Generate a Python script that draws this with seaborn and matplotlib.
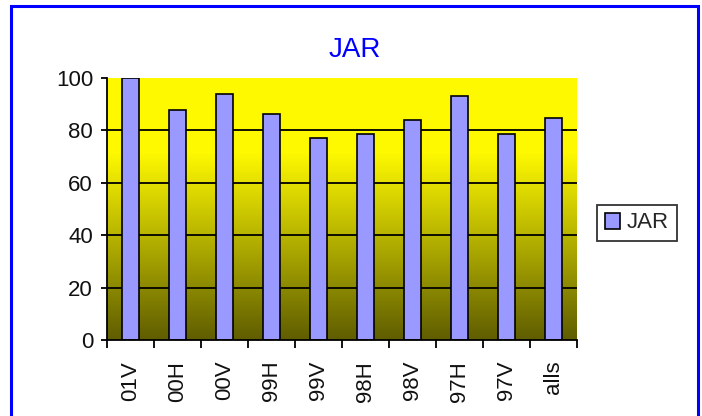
import numpy as np
import pandas as pd
import matplotlib
matplotlib.use("Agg")
import matplotlib.pyplot as plt
import seaborn as sns
from matplotlib.patches import Rectangle, Patch

categories = ["01V", "00H", "00V", "99H", "99V", "98H", "98V", "97H", "97V", "alls"]
values = [100, 87.8, 93.9, 86.3, 77.1, 78.6, 84.0, 93.1, 78.6, 84.7]
series = "JAR"
yticks = [0, 20, 40, 60, 80, 100]

sns.set_style("white")
plt.rcParams["font.family"] = ["Liberation Sans", "DejaVu Sans"]

df = pd.DataFrame({"cat": categories, "val": values, "series": series})

fig = plt.figure(figsize=(7.02, 4.16), dpi=100)
fig.patch.set_facecolor("white")
ax = fig.add_axes([107/702, 1-340/416, 470/702, 262/416])

# gradient background
v = np.linspace(100, 0, 400)
r = np.where(v >= 72, 255, 95 + 160 * v / 72) / 255.0
g = r * 0.98
img = np.stack([r, g, np.zeros_like(r)], axis=1)[:, None, :]
ax.imshow(img, extent=(-0.5, 9.5, 0, 100), aspect="auto", zorder=0, interpolation="bilinear")

for y in yticks[1:-1]:
    ax.axhline(y, color="black", lw=1.3, zorder=1)

sns.barplot(data=df, x="cat", y="val", hue="series", palette=["#9999FF"], width=0.38,
            saturation=1, edgecolor="black", linewidth=1.2, ax=ax, zorder=3, legend=False)

ax.set_xlim(-0.5, 9.5)
ax.set_ylim(0, 100)
ax.set_xlabel("")
ax.set_ylabel("")
ax.set_yticks(yticks)
ax.set_yticklabels([str(t) for t in yticks], fontsize=16, color="#111111")
ax.set_xticks(range(len(categories)))
ax.set_xticklabels(categories, rotation=90, fontsize=16, color="#111111")
ax.set_xticks(np.arange(-0.5, 10, 1.0), minor=True)
ax.tick_params(axis="x", which="major", length=0, pad=15)
ax.tick_params(axis="x", which="minor", length=6, width=1.3, color="black", direction="out", bottom=True)
ax.tick_params(axis="y", which="major", length=4, width=1.3, color="black", direction="out", left=True, pad=6)
for s in ["top", "right"]:
    ax.spines[s].set_visible(False)
for s in ["left", "bottom"]:
    ax.spines[s].set_color("black")
    ax.spines[s].set_linewidth(1.3)
    ax.spines[s].set_zorder(4)

fig.text(354.5/702, 1-50/416, "JAR", ha="center", va="center", fontsize=20, color="#0000FF")

handle = Patch(facecolor="#9999FF", edgecolor="black", linewidth=1.2)
leg = fig.legend([handle], [series], loc="center left", bbox_to_anchor=(597/702, 1-223/416),
                 fontsize=16, frameon=True, fancybox=False, handlelength=0.7, handleheight=0.7,
                 handletextpad=0.3, borderpad=0.35, borderaxespad=0)
leg.get_frame().set_edgecolor("black")
leg.get_frame().set_linewidth(1.3)

fig.add_artist(Rectangle((11/702, -0.1), 687/702, 1.1 - 6/416 + 0.0, transform=fig.transFigure,
                         fill=False, edgecolor="#0000FF", linewidth=2.2, clip_on=False))

fig.savefig("out.png", dpi=100)
